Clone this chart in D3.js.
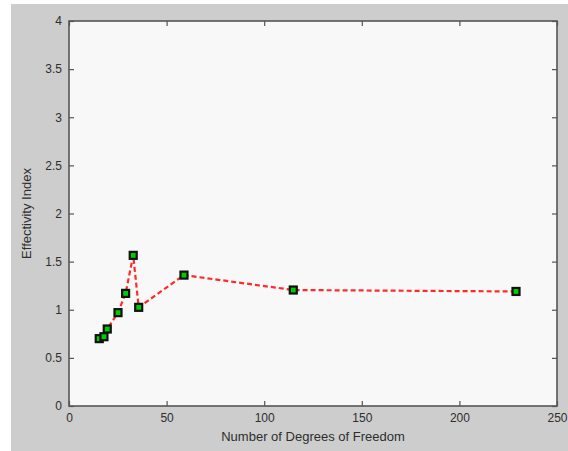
<!DOCTYPE html>
<html>
<head>
<meta charset="utf-8">
<script src="https://cdn.jsdelivr.net/npm/d3@7"></script>
<style>
  body { margin: 0; background: #ffffff; }
  text { font-family: "Liberation Sans", Arial, sans-serif; fill: #2e2e2e; }
</style>
</head>
<body>
<div id="chart"></div>
<script>
// values
var dof = [15.5, 17.9, 19.6, 25.1, 29.0, 32.9, 35.7, 58.9, 114.9, 229];
var effIndex = [0.70, 0.72, 0.80, 0.97, 1.17, 1.565, 1.025, 1.36, 1.205, 1.19];
var xTicks = [0, 50, 100, 150, 200, 250];
var yTicks = [0, 0.5, 1, 1.5, 2, 2.5, 3, 3.5, 4];

var width = 568, height = 451;
var margin = {top: 21, right: 11, bottom: 45, left: 69};
var plotW = width - margin.left - margin.right;
var plotH = height - margin.top - margin.bottom;

var svg = d3.select("#chart").append("svg")
    .attr("width", width)
    .attr("height", height);

// grey figure background
svg.append("rect")
    .attr("x", 11).attr("y", 4)
    .attr("width", width - 11).attr("height", height - 4)
    .attr("fill", "#cdcdcd");

var g = svg.append("g")
    .attr("transform", "translate(" + margin.left + "," + margin.top + ")");

var x = d3.scaleLinear().domain([0, 250]).range([0, plotW]);
var y = d3.scaleLinear().domain([0, 4]).range([plotH, 0]);

g.append("rect")
    .attr("width", plotW).attr("height", plotH)
    .attr("fill", "#f8f8f8");

// axes with inward ticks, matlab box style
function styleAxis(sel) {
    sel.select(".domain").remove();
    sel.selectAll(".tick line").attr("stroke", "#555").attr("stroke-width", 1.2);
    sel.selectAll(".tick text").style("font-size", "12px").attr("fill", "#2e2e2e");
}

g.append("g")
    .attr("transform", "translate(0," + plotH + ")")
    .call(d3.axisBottom(x).tickValues(xTicks).tickSize(-5).tickPadding(7).tickFormat(d3.format("d")))
    .call(styleAxis);
g.append("g")
    .call(d3.axisTop(x).tickValues(xTicks).tickSize(-5).tickFormat(""))
    .call(styleAxis);
g.append("g")
    .call(d3.axisLeft(y).tickValues(yTicks).tickSize(-5).tickPadding(7).tickFormat(d3.format("")))
    .call(styleAxis);
g.append("g")
    .attr("transform", "translate(" + plotW + ",0)")
    .call(d3.axisRight(y).tickValues(yTicks).tickSize(-5).tickFormat(""))
    .call(styleAxis);

// box
g.append("rect")
    .attr("width", plotW).attr("height", plotH)
    .attr("fill", "none")
    .attr("stroke", "#555")
    .attr("stroke-width", 1.6);

// dashed line
var line = d3.line()
    .x(function(d, i) { return x(dof[i]); })
    .y(function(d) { return y(d); });
g.append("path")
    .datum(effIndex)
    .attr("d", line)
    .attr("fill", "none")
    .attr("stroke", "#ff2a2a")
    .attr("stroke-width", 2.2)
    .attr("stroke-dasharray", "5,3");

// square markers
g.selectAll("rect.pt")
    .data(effIndex)
    .enter()
    .append("rect")
    .attr("class", "pt")
    .attr("x", function(d, i) { return x(dof[i]) - 3.5; })
    .attr("y", function(d) { return y(d) - 3.5; })
    .attr("width", 7).attr("height", 7)
    .attr("fill", "#00cc00")
    .attr("stroke", "#111")
    .attr("stroke-width", 2.2);

// labels
svg.append("text")
    .attr("x", margin.left + plotW / 2)
    .attr("y", 441)
    .attr("text-anchor", "middle")
    .style("font-size", "13px")
    .text("Number of Degrees of Freedom");
svg.append("text")
    .attr("transform", "translate(31," + (margin.top + plotH / 2) + ") rotate(-90)")
    .attr("text-anchor", "middle")
    .style("font-size", "13px")
    .text("Effectivity Index");
</script>
</body>
</html>
